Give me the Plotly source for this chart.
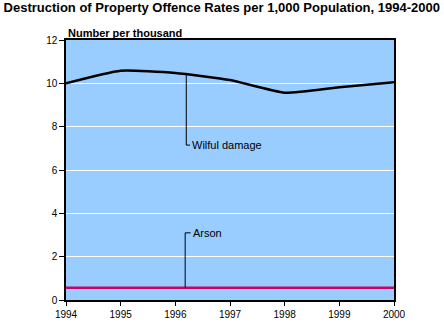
import plotly.graph_objects as go

years = [1994, 1995, 1996, 1997, 1998, 1999, 2000]
wilful = [10.0, 10.58, 10.48, 10.15, 9.57, 9.82, 10.05]
arson = [0.57, 0.57, 0.57, 0.57, 0.57, 0.57, 0.57]
y_ticks = [0, 2, 4, 6, 8, 10, 12]

fig = go.Figure()
fig.add_trace(go.Scatter(x=years, y=wilful, mode="lines",
                         line=dict(color="black", width=2.5, shape="spline", smoothing=0.5),
                         name="Wilful damage"))
fig.add_trace(go.Scatter(x=years, y=arson, mode="lines",
                         line=dict(color="#CC0066", width=2.5), name="Arson"))

# leader lines (elbow) to labels
wx = 1996.2
wy = 10.45
fig.add_shape(type="path", xref="x", yref="y",
              path=f"M {wx},{wy} L {wx},7.15 L {wx+0.07},7.15",
              line=dict(color="black", width=1))
fig.add_annotation(x=wx + 0.07, y=7.15, xref="x", yref="y", text="Wilful damage",
                   showarrow=False, xanchor="left", yanchor="middle",
                   font=dict(family="Liberation Sans, Arial", size=11, color="black"))
ax_ = 1996.18
fig.add_shape(type="path", xref="x", yref="y",
              path=f"M {ax_},{arson[2]} L {ax_},3.1 L {ax_+0.1},3.1",
              line=dict(color="black", width=1))
fig.add_annotation(x=ax_ + 0.1, y=3.1, xref="x", yref="y", text="Arson",
                   showarrow=False, xanchor="left", yanchor="middle",
                   font=dict(family="Liberation Sans, Arial", size=11, color="black"))

fig.add_annotation(x=0, y=1, xref="paper", yref="paper", text="<b>Number per thousand</b>",
                   showarrow=False, xanchor="left", yanchor="bottom", yshift=-1,
                   font=dict(family="Liberation Sans, Arial", size=11, color="black"))

fig.update_layout(
    width=444, height=322,
    margin=dict(l=66, r=50, t=40, b=22, autoexpand=False),
    paper_bgcolor="white", plot_bgcolor="#99CCFF",
    showlegend=False,
    title=dict(text="<b>Destruction of Property Offence Rates per 1,000 Population, 1994-2000</b>",
               x=0.008, xanchor="left", y=0.99, yanchor="top",
               font=dict(family="Liberation Sans, Arial", size=13, color="black")),
    font=dict(family="Liberation Sans, Arial", size=10, color="black"),
)
fig.update_xaxes(range=[1994, 2000], tickvals=years, ticktext=[str(y) for y in years],
                 showgrid=False, showline=True, linecolor="black", linewidth=1.5, mirror=True,
                 ticks="outside", ticklen=4, tickcolor="black", zeroline=False, automargin=False)
fig.update_yaxes(range=[0, 12], tickvals=y_ticks, showgrid=True, gridcolor="white", gridwidth=1,
                 showline=True, linecolor="black", linewidth=1.5, mirror=True,
                 ticks="outside", ticklen=5, tickcolor="black", zeroline=False, automargin=False)

fig.write_html("out.html")
